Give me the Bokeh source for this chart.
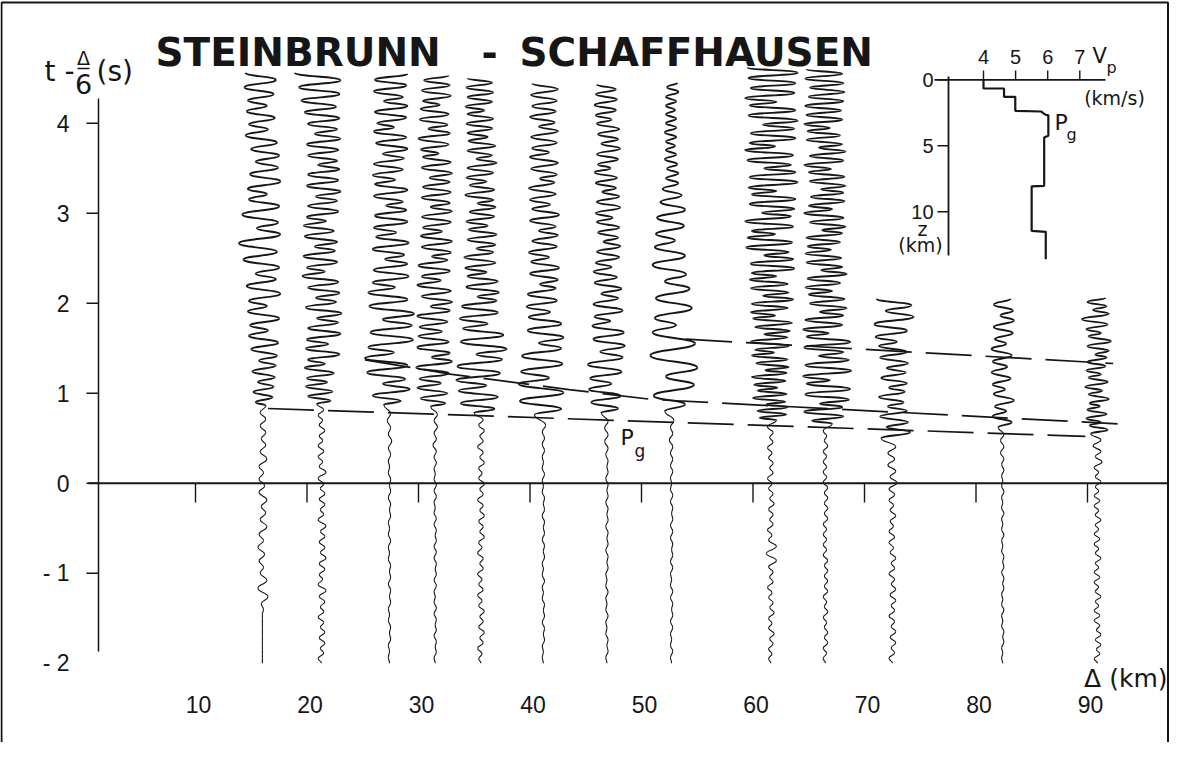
from bokeh.plotting import figure
from bokeh.models import Range1d, ColumnDataSource
from bokeh.core.properties import value
from bokeh.embed import file_html
from bokeh.resources import INLINE

# ---------------------------------------------------------------- data
TITLE_LEFT = "STEINBRUNN"
TITLE_RIGHT = "SCHAFFHAUSEN"

X_TICKS = [10, 20, 30, 40, 50, 60, 70, 80, 90]
X_TICK_LABELS = ["10", "20", "30", "40", "50", "60", "70", "80", "90"]
Y_TICKS = [4, 3, 2, 1, 0, -1, -2]
Y_TICK_LABELS = ["4", "3", "2", "1", "0", "- 1", "- 2"]

# station distances (km), onset of strong motion and end of record (reduced time, s)
STATION_DIST_KM = [16.0, 21.3, 27.4, 31.5, 35.6, 41.2, 46.9, 52.7, 61.6, 66.5, 72.5, 82.4, 90.9]
ONSET_S = [0.86, 0.88, 0.87, 0.85, 0.78, 0.76, 0.78, 0.80, 0.70, 0.66, 0.50, 0.62, 0.55]
END_S = [4.56, 4.56, 4.55, 4.53, 4.50, 4.44, 4.43, 4.45, 4.62, 4.60, 2.05, 2.05, 2.06]
RECORD_START_S = -2.0
AMP_UNIT_KM = 0.1   # swing amplitudes below are in tenths of a km of trace offset

# successive swing amplitudes before the onset (from -2 s upward)
T1_NOISE = [0,0,0,0,0,0,0,0,0,0,0,1,1,5,4,4,2,1,3,2,4,1,3,4,2,3,1,4,3,2,3,1,3,4,2,3,1,3,2,3,2]
T2_NOISE = [3,2,1,3,2,3,1,2,3,2,1,3,2,4,3,1,2,3,2,4,1,3,2,3,1,4,3,2,1,3,2,3,1,2,3,4,2,1,3,2,3,1,2,3,2,1,3,2]
T3_NOISE = [1,0,1,1,0,1,1,0,1,1,0,1,1,1,0,1,1,0,1,1,1,0,1,1,0,1,1,1,0,1,1,0,1,1,1,2,1,1,2,1]
T4_NOISE = [1,1,0,1,1,1,0,1,1,1,1,0,1,1,1,1,0,1,1,1,1,1,0,1,1,1,1,0,1,1,1,1,1,0,1,1,1,1,2,1,1,2,1,2]
T5_NOISE = [2,1,3,2,1,3,2,2,1,3,2,1,3,2,2,1,3,2,1,2,3,1,2,3,1,2,2,3,1,2,3,2,1,3,2,1,2,3,1,2,3,2,1,3,2,2]
T6_NOISE = [1,0,1,1,0,1,1,1,0,1,1,0,1,1,1,0,1,1,0,1,1,1,0,1,1,1,0,1,1,0,1,1,1,0,1,1,1,1,1,2]
T7_NOISE = [1,1,0,1,1,0,1,1,1,0,1,1,1,0,1,1,0,1,1,1,0,1,1,1,0,1,1,1,0,1,1,1,0,1,1,1,2,1,2,1]
T8_NOISE = [1,1,1,0,1,1,1,1,0,1,1,1,1,0,1,1,1,1,0,1,1,1,1,1,0,1,1,1,1,0,1,1,1,1,1,1,2,1,1,2]
T9_NOISE = [2,1,2,2,1,3,2,1,2,3,1,2,2,1,3,2,1,2,2,5,4,5,2,1,3,2,1,2,2,3,1,2,2,1,3,2,1,2,2,1,3,2,1,2,3]
T10_NOISE = [2,1,2,2,1,2,1,1,2,2,1,1,2,2,1,2,1,2,1,2,2,1,2,1,2,1,2,2,1,2,1,2,1,2,2,1,2,1,2,1,2,2,1,1,2]
T11_NOISE = [3,2,1,3,2,3,1,2,3,2,1,3,2,3,1,2,3,2,1,3,2,1,3,2,3,1,2,3,2,1,3,2,3,4,2,3,4,2,4,3]
T12_NOISE = [1,0,1,1,0,1,1,0,1,1,1,0,1,1,0,1,1,1,0,1,1,0,1,1,1,0,1,1,1,0,1,1,1,0,1,1,1,1,2,1,2,1]
T13_NOISE = [3,2,1,3,2,3,1,2,3,2,3,1,2,3,2,1,3,2,3,1,2,3,2,1,3,2,3,1,2,3,2,1,3,2,3,1,2,3,2,1,3,4,2,3,4,3]

# successive swing amplitudes from the onset to the end of the record
T1_SIG = [3,6,9,8,10,4,11,9,12,3,13,10,14,12,5,11,15,13,4,12,16,14,12,6,15,17,13,21,16,5,14,18,15,12,4,13,16,11,14,6,15,10,13,15,5,12,11,14,4,13,10,16,12,15]
T2_SIG = [4,8,12,10,14,5,13,11,15,3,12,16,14,6,13,17,12,15,4,18,14,13,5,16,12,15,17,3,13,14,16,12,6,14,15,11,16,4,13,15,12,14,5,17,13,15,12,16,3,14,12,15,13,17,6,14,12,16,15,13,18,16,20,17,24]
T3_SIG = [5,10,15,18,6,14,20,16,22,4,19,21,17,20,6,22,18,16,19,5,15,17,14,16,4,13,15,17,12,6,14,16,13,15,3,12,14,16,13,5,15,12,14,13,6,16,12,15,14,4,11,15,13,16,5,12,14,15,13,16]
T4_SIG = [4,9,13,11,16,5,14,12,17,15,3,13,16,12,15,6,14,11,16,13,4,15,12,14,16,5,12,13,15,11,3,14,12,15,13,6,11,14,12,15,4,13,12,14,11,13,5,15,12,14,11,3,13,12,15,13,6,11,14,12,13,4,11,14,12,13,10,12]
T5_SIG = [6,12,18,15,20,5,22,17,21,19,4,23,18,20,16,6,19,15,17,14,3,16,13,15,12,5,14,13,15,11,4,13,12,14,11,6,13,12,10,13,3,11,14,12,10,5,13,11,12,14,4,10,12,13,11,6,12,10,13,11,12,3,14,10,12,11,13,10,12]
T6_SIG = [8,16,21,18,22,5,20,17,19,16,4,18,14,16,13,6,15,12,14,11,3,13,12,14,11,5,13,12,10,13,4,11,12,14,10,6,12,11,13,10,3,12,11,13,12,5,10,12,11,13,4,10,12,11,10,12,11,13,10]
T7_SIG = [5,10,14,12,16,4,15,13,17,14,6,16,12,15,13,3,11,14,12,10,5,13,11,9,12,4,10,11,9,12,3,10,8,11,9,5,10,12,9,11,4,8,10,9,11,3,8,10,9,12,5,10,8,11,9,4,10,8,11,9,10,8,9]
T8_SIG = [6,12,16,20,5,23,19,21,17,4,15,18,14,16,6,13,17,12,15,3,14,11,13,12,10,9,8,6,5,6,4,5,6,4,5,3,5,4,6,4,5,4,5,3,5,4,5,6,4,5]
T9_SIG = [5,10,14,12,15,4,13,16,14,12,6,15,13,17,14,5,16,13,15,17,3,14,16,18,15,6,17,14,19,16,4,18,15,17,20,7,16,18,15,19,5,17,21,18,20,6,16,22,19,21,4,17,20,23,18,8,21,19,22,17,5,20,24,19,22,6,18,21,20,23,4,19,22,18,21,7,24,20,22,19,5,23,21,18,22,20,24,21]
T10_SIG = [6,12,16,19,15,5,21,18,22,17,4,20,23,18,21,6,16,19,22,17,3,20,15,18,16,5,19,14,17,15,6,18,13,16,19,4,15,17,14,18,5,16,13,17,15,3,18,14,16,19,6,15,17,13,16,4,18,14,17,15,5,19,16,14,18,6,15,17,13,16,4,19,15,17,14,18,16,15,17,14,16,18,15,17]
T11_SIG = [10,16,5,14,11,13,4,10,12,11,3,13,10,12,5,14,11,13,12,4,15,13,16,19,6,17,14]
T12_SIG = [4,8,9,3,7,10,8,2,9,7,10,4,9,8,10,3,7,9,8,10,2,9,8,7]
T13_SIG = [6,9,7,3,10,8,9,2,7,10,8,4,11,9,8,3,10,7,9,8,2,10,9,12,8,3,10,9,14,10,4,8,9,7]

# travel-time lines (distance km, reduced time s)
PG_DIST = [16.5, 89.8]
PG_T = [0.83, 0.52]
MID_DIST = [25.2, 33.0, 43.5, 51.0, 92.7]
MID_T = [1.37, 1.21, 1.04, 0.93, 0.66]
UPPER_DIST = [54.0, 92.3]
UPPER_T = [1.60, 1.33]

# inset velocity-depth profile
VP_TICKS = [4, 5, 6, 7]
Z_TICKS = [0, 5, 10]
VP_PROFILE = [4.0, 4.0, 4.64, 4.64, 4.99, 4.99, 5.79, 5.86, 5.96, 6.02, 6.02, 5.89, 5.89, 5.5, 5.5, 5.94, 5.94]
Z_PROFILE = [0.0, 0.66, 0.66, 1.29, 1.29, 2.35, 2.40, 2.53, 2.68, 2.68, 4.24, 4.37, 8.03, 8.08, 11.44, 11.52, 13.59]

NOISES = [T1_NOISE, T2_NOISE, T3_NOISE, T4_NOISE, T5_NOISE, T6_NOISE, T7_NOISE,
          T8_NOISE, T9_NOISE, T10_NOISE, T11_NOISE, T12_NOISE, T13_NOISE]
SIGNALS = [T1_SIG, T2_SIG, T3_SIG, T4_SIG, T5_SIG, T6_SIG, T7_SIG,
           T8_SIG, T9_SIG, T10_SIG, T11_SIG, T12_SIG, T13_SIG]

# ---------------------------------------------------------------- layout helpers (page pixels -> data)
W, H = 1169, 742
def X(px): return (px - 91.5) / 11.15
def T(py): return (490.7 - py) / 90.0
def VX(px): return (px - 862.6) / 32.1
def VZ(py): return (py - 87.3) / 13.2

INK = "#161616"
NUM_FONT = value("Liberation Sans Narrow, Liberation Sans")
LAB_FONT = value("DejaVu Sans")

p = figure(width=W, height=H, x_range=Range1d(X(8), X(8 + W)), y_range=Range1d(T(8 + H), T(8)),
           output_backend="svg", toolbar_location=None, x_axis_type=None, y_axis_type=None,
           min_border=0, outline_line_color=None)
p.background_fill_color = "white"
p.border_fill_color = "white"
p.extra_x_ranges = {"vp": Range1d(VX(8), VX(8 + W))}
p.extra_y_ranges = {"z": Range1d(VZ(8 + H), VZ(8))}

# frame border
p.line([X(9), X(9), X(1175.5), X(1175.5)], [T(752), T(10), T(10), T(752)], line_color=INK, line_width=2)

# ---------------------------------------------------------------- traces
def swing_times(t0, t1, amps):
    """Times of successive extremes between t0 and t1: larger swings take longer."""
    steps = [10 + amps[k] + amps[k + 1] for k in range(len(amps) - 1)]
    total = float(sum(steps))
    out = [t0]
    acc = 0.0
    for s in steps:
        acc += s
        out.append(t0 + (t1 - t0) * acc / total)
    return out

seg = dict(x0=[], y0=[], x1=[], y1=[], cx0=[], cy0=[], cx1=[], cy1=[], w=[])
for dist, onset, end, noise, sig in zip(STATION_DIST_KM, ONSET_S, END_S, NOISES, SIGNALS):
    pre = [0] + list(noise) + [sig[0]]
    pre_t = swing_times(RECORD_START_S, onset, pre)
    sig_t = swing_times(onset, end, list(sig))
    amps = pre[:-1] + list(sig)
    ts = pre_t[:-1] + sig_t
    n = len(pre) - 1
    xs = [dist + (a if k % 2 == 0 else -a) * AMP_UNIT_KM for k, a in enumerate(amps)]
    for k in range(len(ts) - 1):
        tm = 0.5 * (ts[k] + ts[k + 1])
        seg["x0"].append(xs[k]); seg["y0"].append(ts[k])
        seg["x1"].append(xs[k + 1]); seg["y1"].append(ts[k + 1])
        seg["cx0"].append(xs[k]); seg["cy0"].append(tm)
        seg["cx1"].append(xs[k + 1]); seg["cy1"].append(tm)
        seg["w"].append(1.9 if k >= n else 1.1)
p.bezier(x0="x0", y0="y0", x1="x1", y1="y1", cx0="cx0", cy0="cy0", cx1="cx1", cy1="cy1",
         line_width="w", line_color=INK, source=ColumnDataSource(seg))

# travel-time lines
for dx, ty in ((PG_DIST, PG_T), (MID_DIST, MID_T), (UPPER_DIST, UPPER_T)):
    p.line(dx, ty, line_color=INK, line_width=1.7, line_dash="46 14")

# ---------------------------------------------------------------- axes
y_axis_bottom = T(659)
p.line([X(106), X(106)], [y_axis_bottom, T(106)], line_color=INK, line_width=1.5)
tick_ys = [v for v in Y_TICKS if v >= y_axis_bottom]
p.segment(x0=[X(94)] * len(tick_ys), x1=[X(106)] * len(tick_ys), y0=tick_ys, y1=tick_ys,
          line_color=INK, line_width=1.5)
p.text(x=[X(77)] * len(Y_TICKS), y=Y_TICKS, text=Y_TICK_LABELS, text_font=NUM_FONT,
       text_font_size="23px", text_align="right", text_baseline="middle", text_color=INK)

p.line([X(96), X(1175.5)], [0, 0], line_color=INK, line_width=2)
p.segment(x0=X_TICKS, x1=X_TICKS, y0=[0] * len(X_TICKS), y1=[T(510)] * len(X_TICKS),
          line_color=INK, line_width=1.4)
p.text(x=X_TICKS, y=[T(712)] * len(X_TICKS), text=X_TICK_LABELS, text_font=NUM_FONT,
       text_font_size="23px", text_align="center", text_baseline="middle", x_offset=3,
       text_color=INK)
p.text(x=[X(1175)], y=[T(686)], text=["Δ (km)"], text_font=LAB_FONT, text_font_size="25px",
       text_align="right", text_baseline="middle", text_color=INK)

# y-axis label  t - Δ/6 (s)
p.text(x=[X(52)], y=[T(79)], text=["t -"], text_font=LAB_FONT, text_font_size="28px",
       text_align="left", text_baseline="middle", text_color=INK)
p.text(x=[X(91)], y=[T(65)], text=["Δ"], text_font=LAB_FONT, text_font_size="19px",
       text_align="center", text_baseline="middle", text_color=INK)
p.line([X(85), X(97)], [T(76), T(76)], line_color=INK, line_width=1.5)
p.text(x=[X(91)], y=[T(91)], text=["6"], text_font=LAB_FONT, text_font_size="27px",
       text_align="center", text_baseline="middle", text_color=INK)
p.text(x=[X(104)], y=[T(79)], text=["(s)"], text_font=LAB_FONT, text_font_size="28px",
       text_align="left", text_baseline="middle", text_color=INK)

# Pg label on the section
p.text(x=[X(628)], y=[T(445)], text=["P"], text_font=LAB_FONT, text_font_size="22px",
       text_align="left", text_baseline="middle", text_color=INK)
p.text(x=[X(642)], y=[T(458)], text=["g"], text_font=LAB_FONT, text_font_size="17px",
       text_align="left", text_baseline="middle", text_color=INK)

# title
p.text(x=[X(163)], y=[T(60)], text=[TITLE_LEFT], text_font=LAB_FONT, text_font_style="bold",
       text_font_size="39px", text_align="left", text_baseline="alphabetic", text_color=INK)
p.text(x=[X(497)], y=[T(60)], text=["-"], text_font=LAB_FONT, text_font_style="bold",
       text_font_size="39px", text_align="center", text_baseline="alphabetic", text_color=INK)
p.text(x=[X(527)], y=[T(60)], text=[TITLE_RIGHT], text_font=LAB_FONT, text_font_style="bold",
       text_font_size="39px", text_align="left", text_baseline="alphabetic", text_color=INK)

# ---------------------------------------------------------------- inset velocity profile
kw = dict(x_range_name="vp", y_range_name="z")
p.line(VP_PROFILE, Z_PROFILE, line_color=INK, line_width=2.2, **kw)
p.line([VX(942), VX(1113)], [0, 0], line_color=INK, line_width=1.8, **kw)
p.line([VX(956), VX(956)], [VZ(84), VZ(263)], line_color=INK, line_width=1.8, **kw)
p.segment(x0=VP_TICKS, x1=VP_TICKS, y0=[0] * 4, y1=[VZ(78)] * 4, line_color=INK, line_width=1.4, **kw)
p.segment(x0=[VX(945)] * 3, x1=[VX(956)] * 3, y0=Z_TICKS, y1=Z_TICKS, line_color=INK,
          line_width=1.4, **kw)
p.text(x=VP_TICKS, y=[VZ(64)] * 4, text=[str(v) for v in VP_TICKS], text_font=NUM_FONT,
       text_font_size="20px", text_align="center", text_baseline="middle", text_color=INK, **kw)
p.text(x=[VX(941)] * 3, y=Z_TICKS, text=[str(v) for v in Z_TICKS], text_font=NUM_FONT,
       text_font_size="20px", text_align="right", text_baseline="middle", text_color=INK, **kw)
p.text(x=[VX(1100)], y=[VZ(63)], text=["V"], text_font=LAB_FONT, text_font_size="21px",
       text_align="left", text_baseline="middle", text_color=INK, **kw)
p.text(x=[VX(1114)], y=[VZ(75)], text=["p"], text_font=LAB_FONT, text_font_size="16px",
       text_align="left", text_baseline="middle", text_color=INK, **kw)
p.text(x=[VX(1122)], y=[VZ(105)], text=["(km/s)"], text_font=LAB_FONT, text_font_size="19px",
       text_align="center", text_baseline="middle", text_color=INK, **kw)
p.text(x=[VX(930)], y=[VZ(236)], text=["z"], text_font=LAB_FONT, text_font_size="19px",
       text_align="center", text_baseline="middle", text_color=INK, **kw)
p.text(x=[VX(928)], y=[VZ(252)], text=["(km)"], text_font=LAB_FONT, text_font_size="19px",
       text_align="center", text_baseline="middle", text_color=INK, **kw)
p.text(x=[VX(1062)], y=[VZ(130)], text=["P"], text_font=LAB_FONT, text_font_size="22px",
       text_align="left", text_baseline="middle", text_color=INK, **kw)
p.text(x=[VX(1074)], y=[VZ(142)], text=["g"], text_font=LAB_FONT, text_font_size="16px",
       text_align="left", text_baseline="middle", text_color=INK, **kw)

open("out.html", "w").write(file_html(p, INLINE))
